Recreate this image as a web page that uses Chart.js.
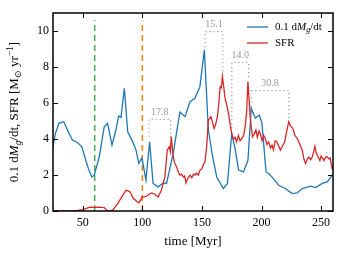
<!DOCTYPE html>
<html><head><meta charset="utf-8">
<script src="https://cdn.jsdelivr.net/npm/chart.js@4/dist/chart.umd.min.js"></script>
<style>html,body{margin:0;padding:0;background:#fff}canvas{display:block}</style>
</head><body>
<canvas id="c" width="346" height="260"></canvas>
<script>
// ---- data ----
const blueTime = [25,27,30,34,38.5,41.3,45.5,49.2,52.5,55,57.6,59.6,63.8,68,70.8,74.5,77.8,80.1,82.1,84.9,87.7,91.9,94.7,97,99.7,103,106.1,109,113.2,117.5,120.3,125.9,131.5,135.8,140,144.1,148.3,152,155.4,159,162.4,168,171.4,175,177.8,180.7,184.9,188.6,191.4,194.8,198.2,200.4,203.8,206,210,214.4,220,225.7,229.9,234.1,237,241.2,245.4,251,255.2,259.4,260];
const blueVals = [3.57,4.3,4.87,4.96,4.31,3.94,3.81,3.57,2.82,2.3,1.89,1.99,3.0,4.68,4.87,3.66,4.5,5.28,5.2,6.82,4.4,3.84,3.38,2.64,2.95,1.71,3.84,1.53,1.34,1.56,1.53,3.2,5.5,5.24,6.07,6.26,6.9,8.95,4.5,3.0,1.89,1.25,1.53,4.31,3.48,2.27,2.17,2.82,5.7,5.15,5.33,4.87,2.17,2.08,1.8,1.43,1.25,0.97,1.0,1.25,1.3,1.38,1.3,1.53,1.62,1.99,2.05];
const redTime = [25,30,40,45,50,53,56,60,63,66,68,70.5,73,75,79.3,83.5,86.3,88,89.7,92.5,95,97,98.5,99.8,102,104,106.5,108,110.4,113.2,116,118.9,120.9,122.6,123.5,124.3,125.9,127,128.7,130,131.5,133,134.3,135.5,136.6,138,140,141.5,143,144.2,145.5,147,148.4,150,151.3,152.6,154,155.4,157.6,159,160.2,161.5,163,164.2,165.3,166.3,167.2,168.3,169.4,170.8,172.3,173.5,175,176.3,177.8,179,180.6,182,183.5,185,186.3,187.5,188.6,189.5,190.5,191.5,192.5,194,195.3,196.5,198,199,200.5,201.8,203.2,204.5,206,207.5,208.8,210,211.5,213,214.5,215.9,217.5,219.5,221,222.9,224.5,226.3,228,230,231.5,232.8,234.2,235.5,237,238.5,239.8,241.2,242.6,243.8,244.8,246,247.6,249,250,251,252.5,253.8,255.2,256.5,257.6,258.5,259.4,260];
const redVals = [0,0,0,0.02,0.08,0.15,0.22,0.2,0.22,0.2,0.19,0.02,0,0.05,0.41,0.87,1.15,1.12,1.06,0.69,0.55,0.45,0.6,0.78,0.78,0.85,0.97,1.0,0.93,0.78,1.15,1.89,3.38,3.57,3.3,4.12,3.0,2.7,2.45,2.2,1.99,2.05,1.89,1.95,1.56,1.8,1.99,1.85,2.05,1.99,2.1,2.0,2.27,2.35,2.6,2.73,3.6,5.05,5.24,4.9,4.59,4.8,5.24,6.0,6.91,6.85,7.47,6.9,6.26,5.9,5.43,4.9,4.31,4.0,4.1,3.85,4.2,3.9,4.03,4.2,4.68,5.5,7.19,6.3,5.24,4.6,4.12,4.3,4.5,4.1,4.45,4.31,3.9,4.2,4.03,3.7,3.84,3.5,3.66,3.4,3.9,3.84,3.6,3.38,3.6,3.84,4.4,4.96,4.7,4.59,4.2,4.03,3.8,3.6,3.38,2.9,2.64,2.9,3.0,2.85,3.0,3.3,3.6,3.2,3.0,2.8,3.05,2.95,2.8,3.0,3.0,2.9,2.95,2.6,2.36,2.5];
const vlineTimes = [60, 100];
const vlineTop = 10.6;
const bracketLabels = ["17.8","15.1","14.0","30.8"];
const bracketStart = [105.6,152.6,175.1,191.4];
const bracketEnd = [123.7,167.5,189.1,222.9];
const bracketTop = [5.09,9.97,8.25,6.69];
const bracketStartBottom = [4.12,9.1,4.6,5.8];
const bracketEndBottom = [4.05,7.56,7.28,5.05];
const xTicks = [50,100,150,200,250];
const yTicks = [0,2,4,6,8,10];
const legendLabels = ["0.1 dMg/dt","SFR"];

// ---- styles ----
const SERIF = '"Liberation Serif", "Times New Roman", serif';
const BLUE = '#1f77b4', RED = '#d62728', GREEN = '#4aa84a', ORANGE = '#ff7f0e', GREY = '#999999';

const datasets = [];
datasets.push({label:'SFR', data: redTime.map((t,i)=>({x:t,y:redVals[i]})), borderColor:RED, borderWidth:1.3, pointRadius:0, order:0});
datasets.push({label:'blue', data: blueTime.map((t,i)=>({x:t,y:blueVals[i]})), borderColor:BLUE, borderWidth:1.3, pointRadius:0, order:1});
bracketLabels.forEach((l,i)=>{
  datasets.push({label:'br'+i, data:[{x:bracketStart[i],y:bracketStartBottom[i]},{x:bracketStart[i],y:bracketTop[i]},{x:bracketEnd[i],y:bracketTop[i]},{x:bracketEnd[i],y:bracketEndBottom[i]}],
    borderColor:GREY, borderWidth:1.2, borderDash:[1.2,2.8], pointRadius:0, order:2});
});
const vcols = [GREEN, ORANGE];
vlineTimes.forEach((t,i)=>{
  datasets.push({label:'v'+i, data:[{x:t,y:0},{x:t,y:vlineTop}], borderColor:vcols[i], borderWidth:1.5, borderDash:[6,4], pointRadius:0, order:3});
});

function drawRich(ctx, segs, x, y, size, align){
  const fontFor = s => (s.italic?'italic ':'') + ((s.sub||s.sup)? size*0.72 : size) + 'px ' + SERIF;
  let w = 0;
  segs.forEach(s=>{ ctx.font = fontFor(s); w += ctx.measureText(s.t).width; });
  let cx = align==='center' ? x - w/2 : (align==='right'? x - w : x);
  ctx.textBaseline = 'middle'; ctx.textAlign = 'left';
  segs.forEach(s=>{
    ctx.font = fontFor(s);
    let dy = s.sub ? size*0.28 : (s.sup ? -size*0.38 : 0);
    ctx.fillText(s.t, cx, y+dy);
    cx += ctx.measureText(s.t).width;
  });
}

const deco = {
  id:'deco',
  afterDraw(chart){
    const ctx = chart.ctx, a = chart.chartArea, xs = chart.scales.x, ys = chart.scales.y;
    ctx.save();
    // frame
    ctx.strokeStyle = '#000'; ctx.lineWidth = 1.5;
    ctx.strokeRect(a.left, a.top, a.right-a.left, a.bottom-a.top);
    // inside ticks
    ctx.lineWidth = 1;
    xTicks.forEach(v=>{
      const px = Math.round(xs.getPixelForValue(v))+0.5;
      ctx.beginPath(); ctx.moveTo(px,a.bottom); ctx.lineTo(px,a.bottom-5); ctx.moveTo(px,a.top); ctx.lineTo(px,a.top+5); ctx.stroke();
    });
    yTicks.forEach(v=>{
      const py = Math.round(ys.getPixelForValue(v))+0.5;
      ctx.beginPath(); ctx.moveTo(a.left,py); ctx.lineTo(a.left+5,py); ctx.moveTo(a.right,py); ctx.lineTo(a.right-5,py); ctx.stroke();
    });
    // bracket labels
    ctx.fillStyle = GREY; ctx.font = '10px '+SERIF; ctx.textAlign='center'; ctx.textBaseline='middle';
    bracketLabels.forEach((l,i)=>{
      const px = xs.getPixelForValue((bracketStart[i]+bracketEnd[i])/2);
      const py = ys.getPixelForValue(bracketTop[i]) - 7;
      ctx.fillText(l, px, py);
    });
    // legend
    ctx.lineWidth = 1.3;
    const lx0 = 247, lx1 = 268, ly = [27, 43], cols=[BLUE, RED];
    ly.forEach((y,i)=>{
      ctx.strokeStyle = cols[i]; ctx.beginPath(); ctx.moveTo(lx0,y); ctx.lineTo(lx1,y); ctx.stroke();
    });
    ctx.fillStyle = '#000';
    drawRich(ctx, [{t:'0.1 d'},{t:'M',italic:true},{t:'g',italic:true,sub:true},{t:'/dt'}], 275, 27, 11, 'left');
    drawRich(ctx, [{t:legendLabels[1]}], 275, 43, 11, 'left');
    // x title
    drawRich(ctx, [{t:'time [Myr]'}], (a.left+a.right)/2, 242, 13, 'center');
    // y title rotated
    ctx.translate(15, (a.top+a.bottom)/2);
    ctx.rotate(-Math.PI/2);
    drawRich(ctx, [{t:'0.1 d'},{t:'M',italic:true},{t:'g',italic:true,sub:true},{t:'/dt, SFR [M'},{t:'⊙',sub:true},{t:' yr'},{t:'−1',sup:true},{t:']'}], 0, 0, 13, 'center');
    ctx.restore();
  }
};

new Chart(document.getElementById('c'), {
  type:'line',
  data:{datasets},
  options:{
    responsive:false, animation:false, devicePixelRatio:1,
    layout:{padding:{top:13,right:13,left:0,bottom:0}},
    plugins:{legend:{display:false}, tooltip:{enabled:false}},
    elements:{line:{tension:0}},
    scales:{
      x:{type:'linear', min:25, max:260,
        afterBuildTicks: s=>{ s.ticks = xTicks.map(v=>({value:v})); },
        afterFit: s=>{ s.height = 49; },
        grid:{display:false, drawTicks:false}, border:{display:false},
        ticks:{padding:5, color:'#000', font:{family:SERIF, size:12}, maxRotation:0}},
      y:{type:'linear', min:0, max:11,
        afterBuildTicks: s=>{ s.ticks = yTicks.map(v=>({value:v})); },
        afterFit: s=>{ s.width = 53; },
        grid:{display:false, drawTicks:false}, border:{display:false},
        ticks:{padding:4, color:'#000', font:{family:SERIF, size:12}}}
    }
  },
  plugins:[deco]
});
</script>
</body></html>
